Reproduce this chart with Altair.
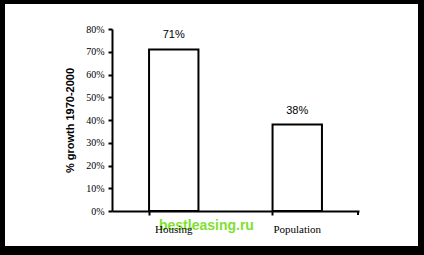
import altair as alt
import pandas as pd

categories = ["Housing", "Population"]
growth = [71, 38]
labels = ["71%", "38%"]
y_ticks = [0, 10, 20, 30, 40, 50, 60, 70, 80]

df = pd.DataFrame({"cat": categories, "val": growth, "lab": labels})

W, H = 247, 182

base = alt.Chart(df)

panel = base.mark_rect(fill="white", stroke=None).encode(
    x=alt.value(-107), x2=alt.value(306), y=alt.value(-25), y2=alt.value(217)
)

xscale = alt.Scale(paddingInner=0.6, paddingOuter=0.3)
yscale = alt.Scale(domain=[0, 80], nice=False)

xaxis = alt.Axis(title=None, labelAngle=0, bandPosition=0, domainWidth=2, zindex=1,
                 domainColor="black", tickColor="black", tickSize=4, tickWidth=2,
                 labelFont="Liberation Serif", labelFontSize=11, labelColor="black",
                 labelPadding=8)
yaxis = alt.Axis(title="% growth 1970-2000", values=y_ticks, labelExpr="datum.value + '%'",
                 labelOverlap=False, grid=False, domainWidth=2, domainColor="black",
                 tickColor="black", zindex=1, tickSize=4, tickWidth=2,
                 labelFont="Liberation Serif", labelFontSize=10, labelColor="black",
                 labelPadding=4, titleFont="Liberation Sans", titleFontSize=11,
                 titleFontWeight="bold", titleColor="black", titlePadding=10)

bars = base.mark_bar(fill="white", stroke="black", strokeWidth=2).encode(
    x=alt.X("cat:N", sort=categories, scale=xscale, axis=xaxis),
    y=alt.Y("val:Q", scale=yscale, axis=yaxis),
)

text = base.mark_text(dy=-9, font="Liberation Sans", fontSize=11, color="black", baseline="bottom").encode(
    x=alt.X("cat:N", sort=categories, scale=xscale, axis=xaxis),
    y=alt.Y("val:Q", scale=yscale, axis=yaxis),
    text="lab:N",
)

endtick = base.mark_rule(color="black", strokeWidth=2).encode(
    x=alt.value(W - 1), y=alt.value(H), y2=alt.value(H + 4)
)

watermark = alt.Chart(pd.DataFrame({"t": ["bestleasing.ru"]})).mark_text(
    font="Liberation Sans", fontSize=14, fontWeight="bold", color="#80e030", align="left", baseline="middle"
).encode(x=alt.value(47), y=alt.value(197), text="t:N")

chart = alt.layer(panel, bars, text, endtick, watermark).properties(
    width=W, height=H, background="black",
    padding={"left": 112, "top": 29, "right": 65, "bottom": 44},
    autosize=alt.AutoSizeParams(type="none"),
).configure_view(stroke=None)

chart.save("out.html", embed_options={"renderer": "svg", "actions": False})
